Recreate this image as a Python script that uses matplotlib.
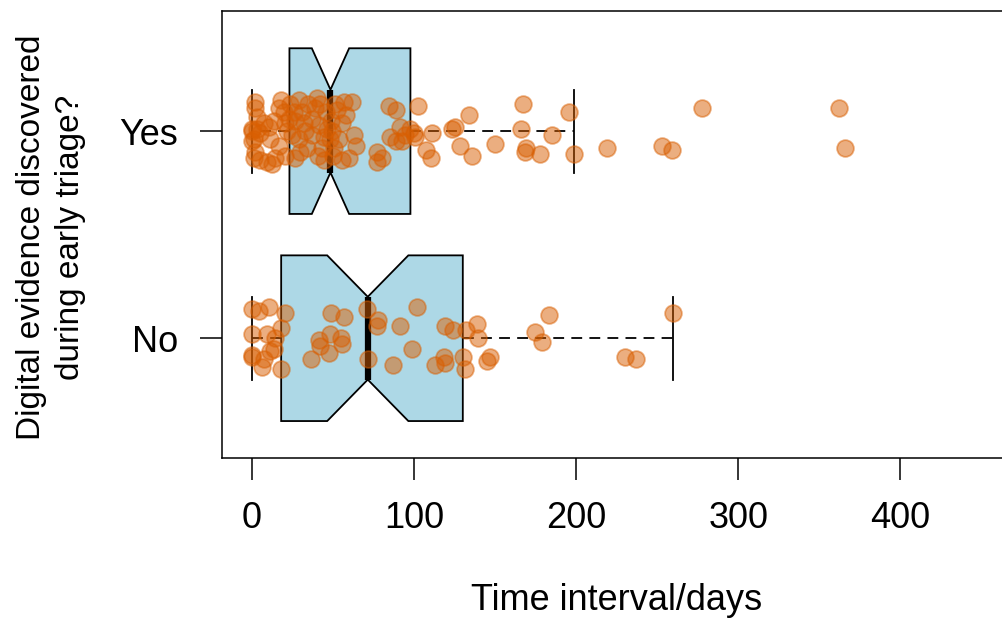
import matplotlib
matplotlib.use("Agg")
import matplotlib.pyplot as plt
import numpy as np

plt.rcParams["font.family"] = ["Liberation Sans", "DejaVu Sans"]

groups = ["No", "Yes"]
x_ticks = [0, 100, 200, 300, 400]

# time intervals (days) and the vertical jitter of each point
no_days = [0.3, 4.4, 10.5, 20.4, 18.2, 0.3, 9.6, 14.7, 13.6, 11.6,
           0.3, 0.0, 7.5, 6.5, 18.2, 49.2, 57.2, 48.2, 55.2, 41.4,
           42.4, 55.8, 47.5, 36.3, 71.2, 72.0, 78.2, 77.4, 91.7, 102.0,
           87.2, 99.0, 119.0, 124.1, 132.4, 139.2, 139.3, 118.4, 119.3, 113.3,
           130.2, 131.4, 145.2, 147.2, 183.2, 175.0, 179.1, 230.0, 236.9, 260.0]
no_jitter = [0.14, 0.13, 0.15, 0.12, 0.05, 0.02, 0.02, 0.00, -0.05, -0.06,
             -0.08, -0.09, -0.10, -0.14, -0.15, 0.12, 0.10, 0.02, 0.00, -0.01,
             -0.04, -0.03, -0.07, -0.10, 0.14, -0.10, 0.09, 0.06, 0.06, 0.15,
             -0.13, -0.05, 0.06, 0.04, 0.04, 0.07, 0.00, -0.09, -0.12, -0.13,
             -0.09, -0.15, -0.11, -0.09, 0.11, 0.03, -0.02, -0.09, -0.10, 0.12]

yes_days = [2.3, 1.9, 3.4, 0.3, 3.4, 1.3, 2.3, 1.3, 5.4, 9.6,
            12.6, 14.7, 16.7, 13.6, 16.7, 19.8, 7.5, 10.4, 0.0, 0.0,
            21.9, 20.8, 5.4, 17.8, 11.6, 20.8, 23.3,
            29.5, 40.4, 42.4, 39.3, 26.0, 31.1, 32.1, 41.4, 25.0, 29.0,
            34.2, 43.5, 27.0, 37.3, 44.5, 27.0, 35.0, 46.1, 46.7, 37.5,
            30.1, 41.2, 33.2, 23.9, 44.9, 48.6,
            51.7, 56.8, 62.0, 52.7, 55.8, 62.9, 64.6, 53.7, 50.6, 55.8,
            59.9, 84.5, 88.7, 91.7, 85.6, 88.7, 94.8, 92.8, 77.4, 80.5,
            77.4, 49.2, 49.8, 58.4, 50.4, 97.9,
            99.8, 102.8, 101.0, 107.2, 110.3, 111.5, 123.6, 125.6, 133.8, 128.7,
            135.9, 150.3, 167.6, 166.0, 169.1, 168.8, 178.1, 185.3, 195.9, 198.6,
            219.2, 253.1, 259.2, 277.7, 362.0, 366.1]
yes_jitter = [0.14, 0.11, 0.07, 0.01, 0.01, -0.04, -0.10, -0.13, -0.14, -0.15,
              -0.16, -0.13, -0.07, 0.05, 0.11, 0.09, 0.04, 0.02, 0.00, -0.05,
              0.00, -0.12, -0.01, 0.15, -0.04, 0.04, 0.06,
              0.15, 0.16, 0.13, 0.11, 0.09, 0.09, 0.04, 0.03, -0.02, -0.04,
              -0.08, -0.08, -0.13, -0.02, -0.03, 0.05, 0.13, 0.09, 0.01, 0.06,
              -0.10, -0.12, 0.00, 0.13, -0.14, -0.04,
              0.13, 0.14, 0.14, 0.10, 0.04, -0.02, -0.07, -0.04, -0.08, -0.14,
              -0.13, 0.12, 0.10, 0.02, -0.03, -0.05, -0.02, -0.05, -0.10, -0.13,
              -0.15, 0.05, 0.00, 0.08, -0.12, 0.01,
              -0.01, 0.12, -0.03, -0.09, -0.13, -0.01, 0.01, 0.02, 0.08, -0.07,
              -0.12, -0.06, 0.13, 0.01, -0.08, -0.10, -0.11, -0.02, 0.09, -0.11,
              -0.08, -0.07, -0.09, 0.11, 0.11, -0.08]


def fivenum(x):
    # Tukey five-number summary, same as R's fivenum()
    x = np.sort(np.asarray(x, dtype=float))
    n = len(x)
    n4 = np.floor((n + 3) / 2) / 2
    d = np.array([1, n4, (n + 1) / 2, n + 1 - n4, n]) - 1
    return 0.5 * (x[np.floor(d).astype(int)] + x[np.ceil(d).astype(int)])


def box_stats(x):
    x = np.asarray(x, dtype=float)
    lo, q1, med, q3, hi = fivenum(x)
    iqr = q3 - q1
    inside = x[(x >= q1 - 1.5 * iqr) & (x <= q3 + 1.5 * iqr)]
    half = 1.58 * iqr / np.sqrt(len(x))
    return dict(med=med, q1=q1, q3=q3, whislo=inside.min(), whishi=inside.max(),
                cilo=med - half, cihi=med + half, fliers=[])


fig = plt.figure(figsize=(10.03, 6.24), dpi=100)
ax = fig.add_axes([0.2218, 0.2655, 0.7858, 0.7169])

stats = [box_stats(no_days), box_stats(yes_days)]
ax.bxp(stats, positions=[1, 2], widths=0.8, orientation="horizontal",
       patch_artist=True, shownotches=True, showfliers=False, manage_ticks=False,
       boxprops=dict(facecolor="#ADD8E6", edgecolor="black", linewidth=1.3),
       whiskerprops=dict(color="black", linewidth=1.3, linestyle=(0, (6, 4))),
       capprops=dict(color="black", linewidth=1.3),
       medianprops=dict(color="black", linewidth=4.5, solid_capstyle="butt"))

for pos, days, jit in [(1, no_days, no_jitter), (2, yes_days, yes_jitter)]:
    ax.scatter(days, pos + np.array(jit), s=145, color="#D95F02", alpha=0.5,
               edgecolors="#D95F02", linewidths=1.3, zorder=3)

ax.set_xlim(-18, 468)
ax.set_ylim(0.42, 2.58)
ax.set_xticks(x_ticks)
ax.set_yticks([1, 2], groups)
ax.tick_params(axis="both", labelsize=26, length=16, width=1.1, direction="out")
ax.tick_params(axis="x", pad=15)
ax.tick_params(axis="y", pad=16)
for sp in ax.spines.values():
    sp.set_linewidth(1.1)

fig.text(0.615, 0.038, "Time interval/days", ha="center", va="center", fontsize=26)
fig.text(0.051, 0.62, "Digital evidence discovered\nduring early triage?",
         rotation=90, ha="center", va="center", fontsize=24,
         multialignment="center", linespacing=1.35)

fig.savefig("out.png", dpi=100)
